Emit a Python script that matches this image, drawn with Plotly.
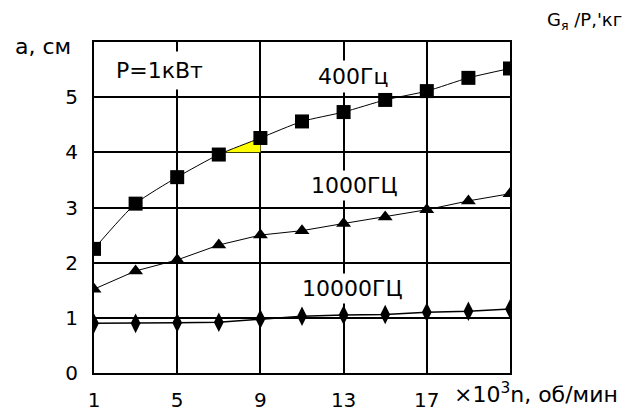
import plotly.graph_objects as go

# ---- data ----
n_vals = [1, 3, 5, 7, 9, 11, 13, 15, 17, 19, 21]
a_400 = [2.25, 3.07, 3.55, 3.96, 4.26, 4.56, 4.73, 4.95, 5.11, 5.35, 5.52]
a_1000 = [1.52, 1.85, 2.05, 2.32, 2.5, 2.58, 2.71, 2.83, 2.96, 3.12, 3.25]
a_10000 = [0.9, 0.9, 0.91, 0.92, 0.98, 1.03, 1.05, 1.06, 1.1, 1.12, 1.16]
x_ticks = [1, 5, 9, 13, 17]
y_ticks = [0, 1, 2, 3, 4, 5]
x_range = [1, 21]
y_range = [0, 6]

FONT = "DejaVu Sans"

fig = go.Figure()

# small yellow patch between the 400 Hz curve and the grid at y=4, x=9
i0 = n_vals.index(7)
i1 = n_vals.index(9)
x_cross = n_vals[i0] + (4 - a_400[i0]) / (a_400[i1] - a_400[i0]) * (n_vals[i1] - n_vals[i0])
fig.add_trace(go.Scatter(
    x=[x_cross, n_vals[i1], n_vals[i1], x_cross],
    y=[4, a_400[i1], 4, 4],
    fill="toself", fillcolor="#ffff00", mode="none", hoverinfo="skip",
    showlegend=False,
))

fig.add_trace(go.Scatter(
    x=n_vals, y=a_400, mode="lines+markers",
    line=dict(color="black", width=1, shape="spline", smoothing=0.6),
    marker=dict(symbol="square", size=14, color="black"),
    showlegend=False,
))
fig.add_trace(go.Scatter(
    x=n_vals, y=a_1000, mode="lines+markers",
    line=dict(color="black", width=1),
    marker=dict(symbol="triangle-up", size=13, color="black"),
    showlegend=False,
))
fig.add_trace(go.Scatter(
    x=n_vals, y=a_10000, mode="lines+markers",
    line=dict(color="black", width=1.5),
    marker=dict(symbol="diamond-tall", size=14, color="black"),
    showlegend=False,
))

label_font = dict(family=FONT, size=22, color="black")
anns = [
    dict(x=4.17, y=5.49, text="P=1кВт", xref="x", yref="y", bgcolor="white", borderpad=6),
    dict(x=13.45, y=5.38, text="400Гц", xref="x", yref="y", bgcolor="white", borderpad=3),
    dict(x=13.5, y=3.39, text="1000ГЦ", xref="x", yref="y", bgcolor="white", borderpad=2),
    dict(x=13.4, y=1.54, text="10000ГЦ", xref="x", yref="y", bgcolor="white", borderpad=2),
]
for a in anns:
    fig.add_annotation(showarrow=False, font=label_font, xanchor="center", yanchor="middle", **a)

fig.add_annotation(x=-0.195, y=0.985, xref="paper", yref="paper", text="a, см",
                   showarrow=False, xanchor="left", yanchor="middle", font=label_font)
fig.add_annotation(x=1.084, y=1.063, xref="paper", yref="paper", text="G<sub>я</sub> /P,'кг",
                   showarrow=False, xanchor="left", yanchor="middle",
                   font=dict(family=FONT, size=18, color="black"))
fig.add_annotation(x=0.861, y=-0.06, xref="paper", yref="paper", text="×10<sup>3</sup>n, об/мин",
                   showarrow=False, xanchor="left", yanchor="middle", font=label_font)

fig.update_xaxes(range=x_range, tickvals=x_ticks, ticktext=[str(v) for v in x_ticks],
                 showgrid=True, gridcolor="black", gridwidth=2,
                 showline=True, linecolor="black", linewidth=2, mirror=True,
                 zeroline=False, ticks="", ticklabelstandoff=8, automargin=False,
                 tickfont=dict(family=FONT, size=20, color="black"))
fig.update_yaxes(range=y_range, tickvals=y_ticks, ticktext=[str(v) for v in y_ticks],
                 showgrid=True, gridcolor="black", gridwidth=2,
                 showline=True, linecolor="black", linewidth=2, mirror=True,
                 zeroline=False, ticks="", ticklabelstandoff=10, automargin=False,
                 tickfont=dict(family=FONT, size=20, color="black"))

# page body adds an 8px offset, so the figure is 8px smaller and margins shifted
fig.update_layout(width=625, height=406, margin=dict(l=86, r=123, t=34, b=41),
                  plot_bgcolor="white", paper_bgcolor="white", showlegend=False)

fig.write_html("out.html")
